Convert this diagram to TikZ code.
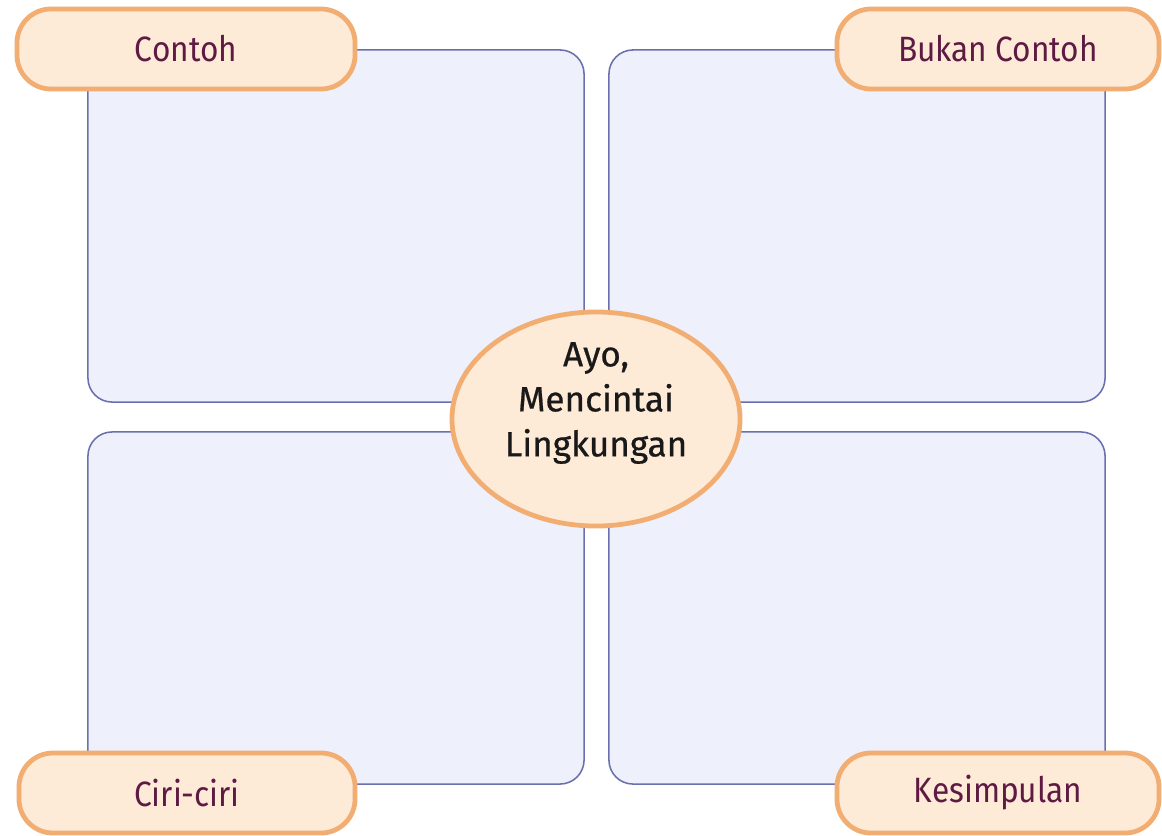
\documentclass[tikz,border=0pt]{standalone}
\usepackage{fontspec}
\setmainfont{Fira Sans}
\usetikzlibrary{shapes.geometric,positioning}

\definecolor{boxfill}{HTML}{EEF0FB}
\definecolor{boxline}{HTML}{6A70AE}
\definecolor{tagfill}{HTML}{FDEAD7}
\definecolor{tagline}{HTML}{F2AE72}
\definecolor{tagtext}{HTML}{5E1A42}

\begin{document}
\begin{tikzpicture}[x=0.025cm,y=-0.025cm]

		\tikzstyle{panel}=[draw=boxline,line width=1.1pt,fill=boxfill,rounded corners=0.6cm,minimum width=12.4cm,minimum height=8.8cm]
		\tikzstyle{tag}=[draw=tagline,line width=3.4pt,fill=tagfill,rounded corners=0.85cm,minimum height=2cm,text=tagtext,font=\fontsize{25}{29}\selectfont\addfontfeatures{FakeStretch=0.9}]
		\tikzstyle{hub}=[ellipse,draw=tagline,line width=3.4pt,fill=tagfill,minimum width=7.2cm,minimum height=5.35cm]
		\tikzstyle{hubtext}=[align=center,text=black!90,font=\fontsize{25}{32}\selectfont\addfontfeatures{FakeBold=0.6}]

		\useasboundingbox (0,0) rectangle (1162,835);

		\node[panel] (contoh) at (336,226) {};
		\node[panel] (bukan) at (857,226) {};
		\node[panel] (ciri) at (336,608) {};
		\node[panel] (simpul) at (857,608) {};

		\node[hub] (tema) at (596,419) {};
		\node[hubtext] (tematext) at ([yshift=0.4cm]tema.center) {Ayo,\\Mencintai\\Lingkungan};

		\node[tag,minimum width=8.45cm] (tcontoh) at (186,49) {Contoh};
		\node[tag,minimum width=8.05cm] (tbukan) at (998,49) {Bukan Contoh};
		\node[tag,minimum width=8.4cm] (tciri) at (187,793) {Ciri-ciri};
		\node[tag,minimum width=8.05cm] (tsimpul) at (998,793) {Kesimpulan};

\end{tikzpicture}
\end{document}
